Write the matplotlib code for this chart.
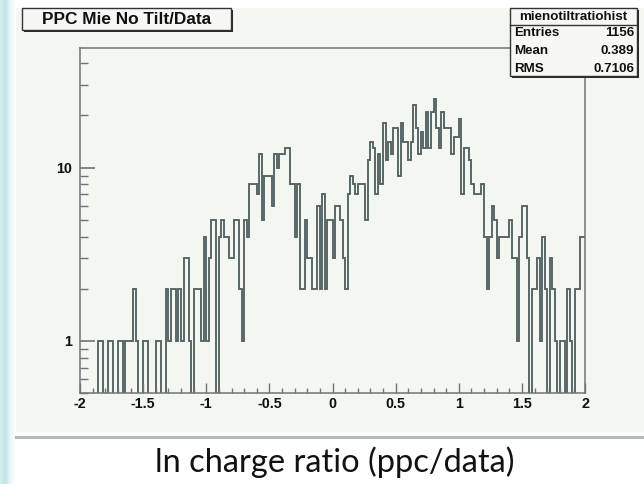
import numpy as np
import matplotlib
matplotlib.use("Agg")
import matplotlib.pyplot as plt
from matplotlib.patches import Rectangle
from matplotlib.lines import Line2D
from matplotlib.ticker import FixedLocator, FixedFormatter, NullFormatter, LogLocator

# ---- histogram contents: 200 bins of ln(charge ratio) from -2 to 2 ----
counts = [
    0, 0, 0, 0, 0, 0, 0, 1, 1, 0,
    0, 1, 1, 0, 0, 1, 1, 0, 1, 1,
    1, 2, 1, 0, 0, 1, 1, 0, 0, 0,
    1, 1, 0, 0, 2, 1, 2, 2, 1, 2,
    1, 3, 3, 1, 0, 2, 2, 2, 1, 4,
    1, 3, 5, 5, 0, 4, 5, 4, 4, 3,
    3, 5, 5, 2, 1, 5, 4, 8, 8, 8,
    7, 12, 5, 9, 9, 9, 6, 12, 10, 12,
    12, 13, 13, 8, 8, 4, 8, 2, 2, 5,
    3, 3, 2, 2, 6, 2, 7, 2, 5, 5,
    3, 6, 6, 5, 3, 2, 7, 9, 8, 7,
    8, 8, 8, 5, 11, 14, 13, 7, 12, 8,
    18, 11, 14, 12, 17, 17, 9, 18, 14, 14,
    11, 14, 23, 17, 12, 16, 13, 21, 13, 21,
    25, 17, 13, 21, 17, 17, 17, 12, 15, 15,
    19, 7, 13, 13, 11, 8, 7, 7, 7, 8,
    4, 2, 4, 6, 5, 3, 4, 4, 4, 4,
    5, 3, 3, 1, 4, 6, 6, 3, 0, 2,
    2, 3, 1, 4, 2, 0, 3, 2, 1, 0,
    1, 1, 0, 2, 1, 0, 2, 2, 4, 4,
]
x_low, x_high = -2.0, 2.0
x_tick_values = [-2, -1.5, -1, -0.5, 0, 0.5, 1, 1.5, 2]
x_tick_labels = ["-2", "-1.5", "-1", "-0.5", "0", "0.5", "1", "1.5", "2"]
y_tick_values = [1, 10]
y_tick_labels = ["1", "10"]
stat_names = ["Entries", "Mean", "RMS"]
stat_values = ["1156", "0.389", "0.7106"]
hist_name = "mienotiltratiohist"
title_text = "PPC Mie No Tilt/Data"
axis_title = "ln charge ratio (ppc/data)"

W, H = 644, 484
fig = plt.figure(figsize=(W / 100, H / 100), dpi=100)
fig.patch.set_facecolor("white")

ROOT_FONT = "Liberation Sans"
LINE_COL = "#536363"
FRAME_COL = "#6d7575"
CANVAS_COL = "#f4f6f2"


def px_rect(x0, y0, x1, y1, **kw):
    """Rectangle given in pixel coordinates measured from the top-left corner."""
    return Rectangle((x0 / W, 1 - y1 / H), (x1 - x0) / W, (y1 - y0) / H,
                     transform=fig.transFigure, **kw)


def px_line(x0, y0, x1, y1, **kw):
    return Line2D([x0 / W, x1 / W], [1 - y0 / H, 1 - y1 / H],
                  transform=fig.transFigure, **kw)


# slide decoration: pale stripe on the left edge
stripe = fig.add_axes([0, 0, 16 / W, 1], zorder=-20)
grad = np.linspace(0, 1, 64)[None, :]
stripe.imshow(grad, aspect="auto", extent=[0, 1, 0, 1],
              cmap=matplotlib.colors.LinearSegmentedColormap.from_list(
                  "edge", ["#d6eeee", "#bfe4e6", "#eef8f8", "#ffffff"]))
stripe.set_axis_off()

# canvas background and separator line under it
fig.patches.append(px_rect(16, 8, 644, 432, facecolor=CANVAS_COL,
                           edgecolor="none", zorder=-10))
fig.lines.append(px_line(16, 437, 644, 437, color="#b3baba", lw=2.2, zorder=-9))

# ---- main pad ----
ax = fig.add_axes([80 / W, 1 - 393 / H, (585 - 80) / W, (393 - 48) / H])
ax.set_facecolor("none")
ax.set_yscale("log", nonpositive="clip")
ax.set_xlim(x_low, x_high)
ax.set_ylim(0.5, 49)

edges = np.linspace(x_low, x_high, len(counts) + 1)
ax.stairs(np.asarray(counts, dtype=float), edges, color=LINE_COL,
          lw=1.35, baseline=None)

for sp in ax.spines.values():
    sp.set_color(FRAME_COL)
    sp.set_linewidth(1.1)

ax.xaxis.set_major_locator(FixedLocator(x_tick_values))
ax.xaxis.set_major_formatter(FixedFormatter(x_tick_labels))
ax.xaxis.set_minor_locator(FixedLocator(np.arange(-2.0, 2.0001, 0.1)))
ax.yaxis.set_major_locator(FixedLocator(y_tick_values))
ax.yaxis.set_major_formatter(FixedFormatter(y_tick_labels))
ax.yaxis.set_minor_locator(LogLocator(base=10, subs=np.arange(2, 10)))
ax.yaxis.set_minor_formatter(NullFormatter())

ax.tick_params(axis="x", which="major", direction="in", length=7.5, width=1,
               color=FRAME_COL, pad=3, top=False)
ax.tick_params(axis="x", which="minor", direction="in", length=3.8, width=1,
               color=FRAME_COL, top=False)
ax.tick_params(axis="y", which="major", direction="in", length=11, width=1.2,
               color=FRAME_COL, pad=6, right=False)
ax.tick_params(axis="y", which="minor", direction="in", length=5.5, width=1,
               color=FRAME_COL, right=False)
for lab in ax.get_xticklabels() + ax.get_yticklabels():
    lab.set_fontfamily(ROOT_FONT)
    lab.set_fontweight("bold")
    lab.set_fontsize(10.3)
    lab.set_color("#111111")

# ---- title box ----
fig.patches.append(px_rect(24, 10, 233, 32, facecolor="#2a2a2a",
                           edgecolor="none", zorder=4))
fig.patches.append(px_rect(22, 8, 231, 30, facecolor="#f7f8f5",
                           edgecolor="#333333", lw=1, zorder=5))
fig.text(126.5 / W, 1 - 19.5 / H, title_text, ha="center", va="center",
         fontfamily=ROOT_FONT, fontweight="bold", fontsize=12.4,
         color="#111111", zorder=6)

# ---- statistics box ----
bx0, by0, bx1, by1 = 510, 8, 637, 76
fig.patches.append(px_rect(bx0 + 2, by0 + 2, bx1 + 2, by1 + 2,
                           facecolor="#2a2a2a", edgecolor="none", zorder=4))
fig.patches.append(px_rect(bx0, by0, bx1, by1, facecolor="#f7f8f5",
                           edgecolor="#333333", lw=1, zorder=5))
fig.lines.append(px_line(bx0, 24.5, bx1, 24.5, color="#333333", lw=1, zorder=6))
fig.text((bx0 + bx1) / 2 / W, 1 - 16.5 / H, hist_name, ha="center",
         va="center", fontfamily=ROOT_FONT, fontweight="bold", fontsize=9.6,
         color="#111111", zorder=7)
for i, (name, val) in enumerate(zip(stat_names, stat_values)):
    yy = 1 - (33.5 + i * 17.5) / H
    fig.text((bx0 + 4) / W, yy, name, ha="left", va="center",
             fontfamily=ROOT_FONT, fontweight="bold", fontsize=9.6,
             color="#111111", zorder=7)
    fig.text((bx1 - 3) / W, yy, val, ha="right", va="center",
             fontfamily=ROOT_FONT, fontweight="bold", fontsize=9.6,
             color="#111111", zorder=7)

# ---- slide caption acting as the x-axis title ----
fig.text(335 / W, 1 - 462 / H, axis_title, ha="center", va="center",
         fontfamily="Lato", fontsize=23.5, color="#111111")

fig.savefig("out.png", dpi=100, facecolor=fig.get_facecolor())
